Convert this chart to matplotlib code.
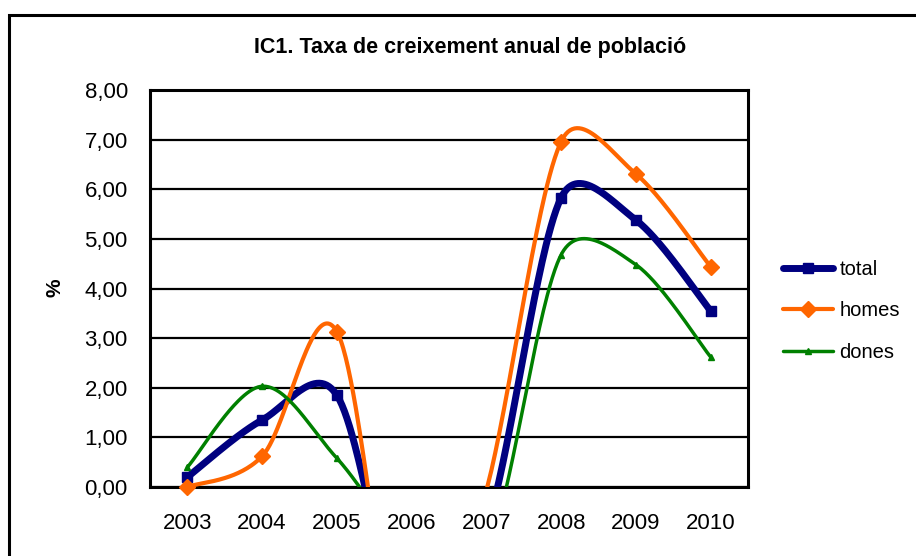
import matplotlib
matplotlib.use("Agg")
import matplotlib.pyplot as plt
from matplotlib.lines import Line2D
from matplotlib.patches import Rectangle
import numpy as np

# ── data (2006 and 2007 are negative, hidden below the 0 axis) ───────────────
years = ["2003", "2004", "2005", "2006", "2007", "2008", "2009", "2010"]
total = [0.20, 1.35, 1.85, -3.28, -0.84, 5.83, 5.38, 3.55]
homes = [0.00, 0.62, 3.13, -4.64, -0.08, 6.96, 6.31, 4.44]
dones = [0.40, 2.03, 0.58, -1.24, -1.34, 4.68, 4.48, 2.62]
yticks = [0, 1, 2, 3, 4, 5, 6, 7, 8]
ytick_labels = ["0,00", "1,00", "2,00", "3,00", "4,00", "5,00", "6,00", "7,00", "8,00"]

series = [
    ("total", total, "#000080", 5.0, "s", 6.5),
    ("homes", homes, "#FF6600", 3.0, "D", 8.5),
    ("dones", dones, "#008000", 2.5, "^", 5.0),
]

plt.rcParams["font.family"] = ["Liberation Sans", "DejaVu Sans"]

# axes box in pixels
AX_L, AX_B, AX_W, AX_H = 150, 69, 598, 397
SX = AX_W / len(years)
SY = AX_H / 8


def smooth(y, n=60):
    """Excel-style smoothed line: Bezier segments, control offsets capped
    at half the segment length (measured in screen pixels)."""
    pts = [np.array([(i + 0.5) * SX, v * SY]) for i, v in enumerate(y)]
    t = np.linspace(0, 1, n)[:, None]
    out = []
    for i in range(len(pts) - 1):
        p1, p2 = pts[i], pts[i + 1]
        p0 = pts[i - 1] if i > 0 else p1
        p3 = pts[i + 2] if i + 2 < len(pts) else p2
        d12 = np.linalg.norm(p2 - p1)
        d02 = np.linalg.norm(p2 - p0)
        d13 = np.linalg.norm(p3 - p1)
        f1 = 1 / 6 if d02 / 6 < d12 / 2 else d12 / 2 / d02
        f2 = 1 / 6 if d13 / 6 < d12 / 2 else d12 / 2 / d13
        b1 = p1 + (p2 - p0) * f1
        b2 = p2 - (p3 - p1) * f2
        out.append((1 - t)**3 * p1 + 3 * (1 - t)**2 * t * b1
                   + 3 * (1 - t) * t**2 * b2 + t**3 * p2)
    c = np.vstack(out)
    return c[:, 0] / SX, c[:, 1] / SY


fig = plt.figure(figsize=(9.16, 5.56), dpi=100)
ax = fig.add_axes([AX_L / 916, AX_B / 556, AX_W / 916, AX_H / 556])

# outer chart frame (runs off the right/bottom edges)
fig.patches.append(Rectangle((9 / 916, -0.1), 1.2, 1.1 - 14.5 / 556,
                             transform=fig.transFigure, fill=False,
                             edgecolor="black", linewidth=2.2))

ax.set_xlim(0, len(years))
ax.set_ylim(0, 8)
ax.set_yticks(yticks)
ax.set_yticklabels(ytick_labels)
ax.set_xticks(np.arange(len(years)) + 0.5)
ax.set_xticklabels(years)
ax.tick_params(axis="both", length=0, labelsize=16)
ax.tick_params(axis="y", pad=16)
ax.tick_params(axis="x", pad=19)
ax.grid(axis="y", color="black", linewidth=1.6)
ax.set_axisbelow(True)
for s in ax.spines.values():
    s.set_linewidth(2.2)
    s.set_color("black")

handles = []
for name, vals, col, lw, mk, ms in series:
    xs, ys = smooth(vals)
    ax.plot(xs, ys, color=col, lw=lw, solid_capstyle="round", zorder=3)
    px = [i + 0.5 for i, v in enumerate(vals) if 0 <= v <= 8]
    py = [v for v in vals if 0 <= v <= 8]
    ax.plot(px, py, ls="none", marker=mk, ms=ms, color=col, clip_on=False, zorder=4)
    handles.append(Line2D([], [], color=col, lw=lw, marker=mk, ms=ms,
                          solid_capstyle="round"))

fig.legend(handles, [s[0] for s in series], loc="center left",
           bbox_to_anchor=(783 / 916, 1 - 311 / 556), frameon=False,
           fontsize=14.5, handlelength=2.5, handletextpad=0.3,
           labelspacing=1.12, borderpad=0, borderaxespad=0)

fig.text(470 / 916, 1 - 47 / 556, "IC1. Taxa de creixement anual de població",
         ha="center", va="center", fontsize=15.5, fontweight="bold")
fig.text(55 / 916, 1 - 288 / 556, "%", rotation=90, ha="center", va="center",
         fontsize=15, fontweight="bold")

fig.savefig("out.png", dpi=100)
